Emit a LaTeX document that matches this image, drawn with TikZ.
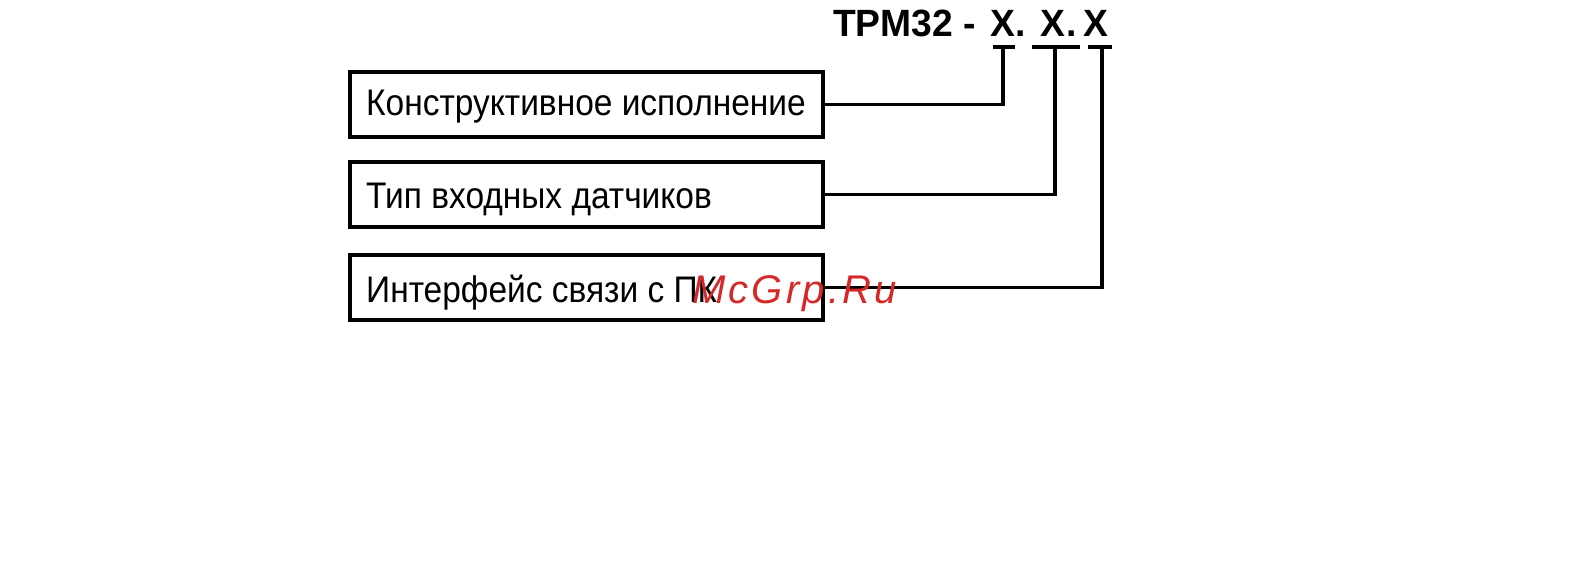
\documentclass[tikz,border=0pt]{standalone}
\usepackage{fontspec}
\setmainfont[FakeStretch=0.905]{Liberation Sans}
\newfontfamily\titlefont[FakeStretch=0.98]{Liberation Sans}
\newfontfamily\wmfont[LetterSpace=8]{Liberation Sans}
\definecolor{wmred}{RGB}{214,40,40}
\begin{document}
\begin{tikzpicture}[x=1pt,y=-1pt,
  box/.style={draw, line width=3.4pt, minimum width=473pt, minimum height=65pt, inner sep=0pt},
  lbl/.style={anchor=base west, inner sep=0pt, font=\fontsize{37}{40}\selectfont},
  ttl/.style={anchor=base west, inner sep=0pt, font=\titlefont\bfseries\fontsize{38}{40}\selectfont},
  conn/.style={line width=3.6pt},
  wm/.style={anchor=base west, inner sep=0pt, text=wmred, font=\wmfont\itshape\fontsize{40}{40}\selectfont}]
\useasboundingbox (0,0) rectangle (1570,578);
% boxes
\node[box] (b1) at (586.5,104.5) {};
\node[box] (b2) at (586.5,194.5) {};
\node[box] (b3) at (586.5,287.5) {};
\node[lbl] (t1) at (366,115) {Конструктивное исполнение};
\node[lbl] (t2) at (366,208) {Тип входных датчиков};
\node[lbl] (t3) at (366,302) {Интерфейс связи с ПК};
% title
\node[ttl] (tm) at (833,37) {ТРМ32 -};
\node[ttl] (x1) at (990,37) {Х.};
\node[ttl] (x2) at (1040,37) {Х};
\node[ttl] (dt) at (1066,37) {.};
\node[ttl] (x3) at (1083,37) {Х};
% underline coordinates
\coordinate (u1a) at (993,47);
\coordinate (u1b) at (1015,47);
\coordinate (u1) at (1003,47);
\coordinate (u2a) at (1032,47);
\coordinate (u2b) at (1080,47);
\coordinate (u2) at (1055,47);
\coordinate (u3a) at (1088,47);
\coordinate (u3b) at (1112,47);
\coordinate (u3) at (1102,47);
\draw[conn] (u1a) -- (u1b);
\draw[conn] (u2a) -- (u2b);
\draw[conn] (u3a) -- (u3b);
\draw[conn] (b1.east) -| (u1);
\draw[conn] (b2.east) -| (u2);
\draw[conn] (b3.east) -| (u3);
% watermark
\node[wm] (w) at (692,303) {McGrp.Ru};
\end{tikzpicture}
\end{document}
